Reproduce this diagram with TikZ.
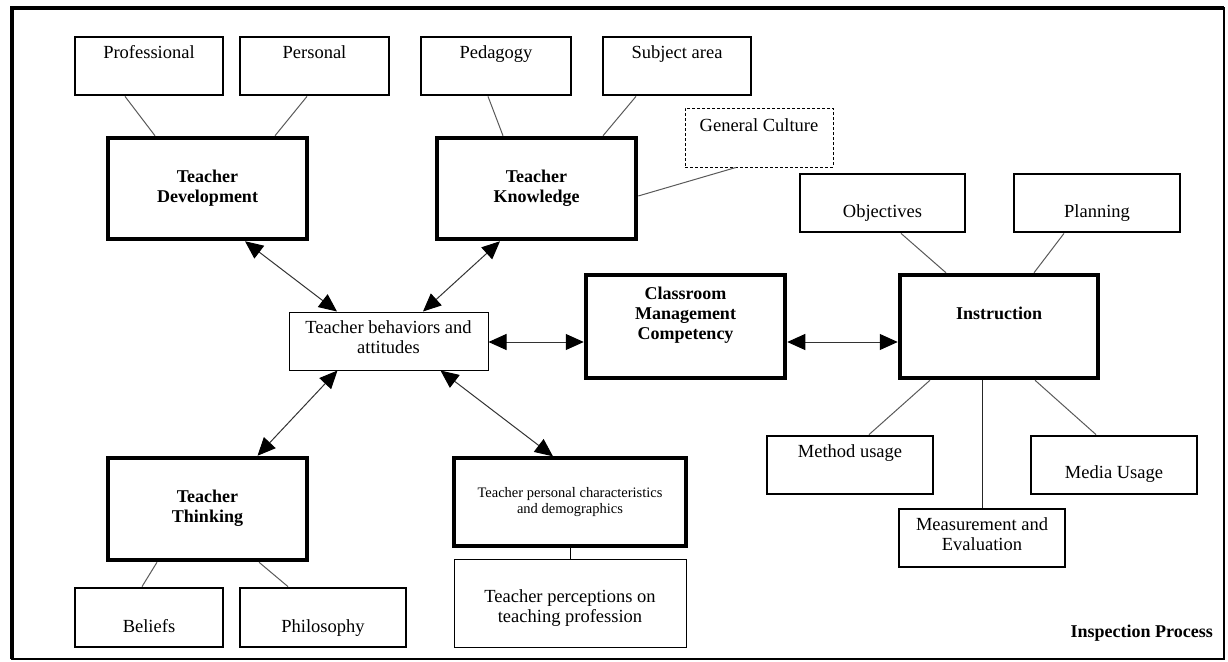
\documentclass[tikz,border=0pt]{standalone}
\usepackage{fontspec}
\setmainfont{Liberation Serif}
\usetikzlibrary{arrows.meta}
\begin{document}
\begin{tikzpicture}[x=1pt,y=-1pt,
  thickbox/.style={draw,line width=4.5pt,rectangle,inner sep=0pt},
  medbox/.style={draw,line width=2.8pt,rectangle,inner sep=0pt},
  thinbox/.style={draw,line width=1pt,rectangle,inner sep=0pt},
  dashbox/.style={draw,line width=0.9pt,dash pattern=on 3pt off 2pt,rectangle,inner sep=0pt},
  lbl/.style={font=\fontsize{18.5}{19.5}\selectfont,align=center,inner sep=0pt,anchor=base},
  blbl/.style={font=\fontsize{18}{20}\selectfont\bfseries,align=center,inner sep=0pt,anchor=base},
  slbl/.style={font=\fontsize{14.5}{16}\selectfont,align=center,inner sep=0pt,anchor=base},
  link/.style={draw=black!65,line width=1pt},
  dblarrow/.style={draw=black!80,line width=1pt,{Triangle[length=18pt,width=16pt,color=black]}-{Triangle[length=18pt,width=16pt,color=black]}}
]
\useasboundingbox (0,0) rectangle (1228,661);
% frame
\draw[line width=2pt] (11.5,8.5) rectangle (1224,659);
\draw[line width=4pt] (11.5,659) -- (11.5,8.5) -- (1224,8.5);

% boxes
\node[medbox,minimum width=148pt,minimum height=58pt] (prof) at (149,66) {};
\node[medbox,minimum width=149pt,minimum height=58pt] (pers) at (314.5,66) {};
\node[medbox,minimum width=150pt,minimum height=58pt] (ped) at (496,66) {};
\node[medbox,minimum width=148pt,minimum height=58pt] (subj) at (677,66) {};
\node[dashbox,minimum width=148pt,minimum height=59pt] (gc) at (759,137.5) {};
\node[thickbox,minimum width=199pt,minimum height=101pt] (td) at (207.5,188.5) {};
\node[thickbox,minimum width=199pt,minimum height=101pt] (tk) at (536.5,188.5) {};
\node[medbox,minimum width=165pt,minimum height=58pt] (obj) at (882.5,203) {};
\node[medbox,minimum width=166pt,minimum height=58pt] (plan) at (1097,203) {};
\node[thinbox,minimum width=199pt,minimum height=58pt] (tba) at (388.5,341) {};
\node[thickbox,minimum width=199pt,minimum height=103pt] (cmc) at (685.5,326.5) {};
\node[thickbox,minimum width=198pt,minimum height=103pt] (ins) at (999,326.5) {};
\node[thickbox,minimum width=199pt,minimum height=102pt] (tt) at (207.5,509) {};
\node[medbox,line width=3.3pt,minimum width=232pt,minimum height=88pt] (tpc) at (570,502) {};
\node[thinbox,minimum width=232pt,minimum height=88pt] (perc) at (570,603) {};
\node[medbox,minimum width=148pt,minimum height=59pt] (bel) at (149,617.5) {};
\node[medbox,minimum width=166pt,minimum height=59pt] (phil) at (323,617.5) {};
\node[medbox,minimum width=166pt,minimum height=58pt] (meth) at (850,465) {};
\node[medbox,minimum width=166pt,minimum height=58pt] (media) at (1114,465) {};
\node[medbox,minimum width=166pt,minimum height=58pt] (meas) at (982,538) {};

% texts (multi-line nodes: base = last line)
\node[lbl] (profT) at (149,59) {Professional};
\node[lbl] (persT) at (314.5,59) {Personal};
\node[lbl] (pedT) at (496,59) {Pedagogy};
\node[lbl] (subjT) at (677,59) {Subject area};
\node[lbl] (gcT) at (759,131) {General Culture};
\node[blbl] (tdT) at (207.5,202) {Teacher\\Development};
\node[blbl] (tkT) at (536.5,202) {Teacher\\Knowledge};
\node[lbl] (objT) at (882.5,217) {Objectives};
\node[lbl] (planT) at (1097,217) {Planning};
\node[lbl] (tbaT) at (388.5,353) {Teacher behaviors and\\attitudes};
\node[blbl] (cmcT) at (685.5,339) {Classroom\\Management\\Competency};
\node[blbl] (insT) at (999,319) {Instruction};
\node[blbl] (ttT) at (207.5,522) {Teacher\\Thinking};
\node[slbl] (tpcT) at (570,513) {Teacher personal characteristics\\and demographics};
\node[lbl] (percT) at (570,622) {Teacher perceptions on\\teaching profession};
\node[lbl] (belT) at (149,632) {Beliefs};
\node[lbl] (philT) at (323,632) {Philosophy};
\node[lbl] (methT) at (850,457) {Method usage};
\node[lbl] (mediaT) at (1114,478) {Media Usage};
\node[lbl] (measT) at (982,550) {Measurement and\\Evaluation};
\node[blbl,anchor=base east] (insp) at (1213,637) {Inspection Process};

% plain links
\draw[link] ([xshift=-24pt]prof.south) -- ([xshift=-52.5pt]td.north);
\draw[link] ([xshift=-7.5pt]pers.south) -- ([xshift=67.5pt]td.north);
\draw[link] ([xshift=-8pt]ped.south) -- ([xshift=-33.5pt]tk.north);
\draw[link] ([xshift=-41pt]subj.south) -- ([xshift=66.5pt]tk.north);
\draw[link] ([xshift=-23pt]gc.south) -- ([yshift=-7.5pt]tk.east);
\draw[link] ([xshift=18.5pt]obj.south) -- ([xshift=-53pt]ins.north);
\draw[link] ([xshift=-33pt]plan.south) -- ([xshift=35pt]ins.north);
\draw[link] ([xshift=-69pt]ins.south) -- ([xshift=19pt]meth.north);
\draw[link,draw=black!85] ([xshift=-17pt]ins.south) -- (meas.north);
\draw[link] ([xshift=36pt]ins.south) -- ([xshift=-18pt]media.north);
\draw[link] ([xshift=-50.5pt]tt.south) -- ([xshift=-7pt]bel.north);
\draw[link] ([xshift=51.5pt]tt.south) -- ([xshift=-35pt]phil.north);
\draw[link,draw=black] (tpc.south) -- (perc.north);

% double arrows
\draw[dblarrow] ([xshift=37.5pt]td.south) -- ([xshift=-51.5pt]tba.north);
\draw[dblarrow] ([xshift=-36.5pt]tk.south) -- ([xshift=34.5pt]tba.north);
\draw[dblarrow] ([yshift=-1pt]tba.east) -- ([yshift=-1pt]tba.east -| cmc.west);
\draw[dblarrow] ([yshift=-15.5pt]cmc.east) -- ([yshift=-15.5pt]cmc.east -| ins.west);
\draw[dblarrow] ([xshift=-51pt]tba.south) -- ([xshift=50pt]tt.north);
\draw[dblarrow] ([xshift=52pt]tba.south) -- ([xshift=-17pt]tpc.north);
\end{tikzpicture}
\end{document}
